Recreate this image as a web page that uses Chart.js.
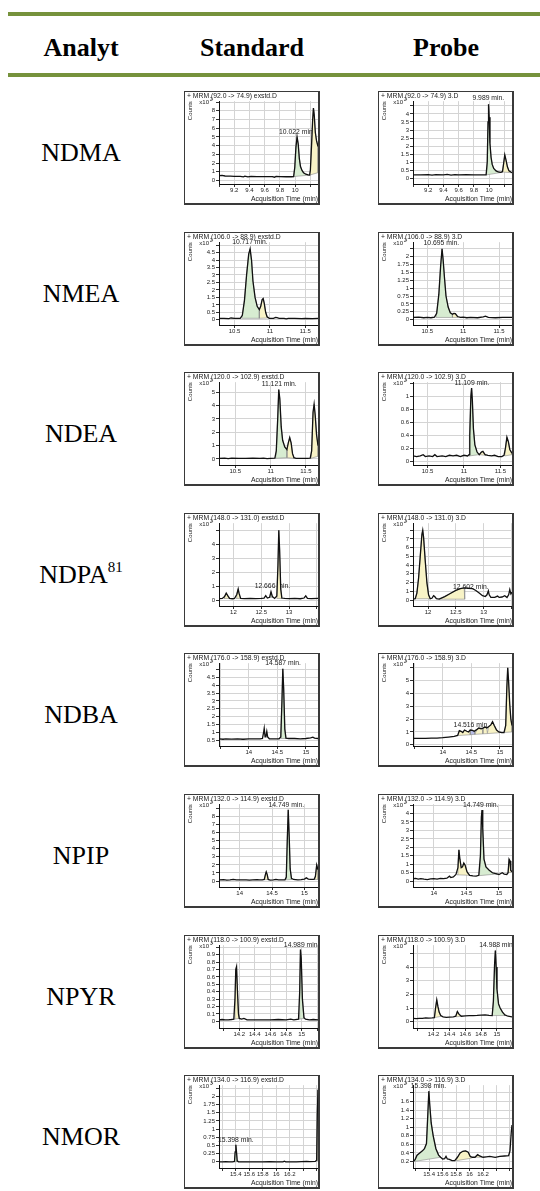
<!DOCTYPE html>
<html>
<head>
<meta charset="utf-8">
<script src="https://cdn.jsdelivr.net/npm/chart.js@4.4.1/dist/chart.umd.min.js"></script>
<style>
  html, body { margin:0; padding:0; background:#fff; }
  body { width:540px; height:1191px; position:relative; overflow:hidden; font-family:"Liberation Serif","Times New Roman",serif; }
  .bar { position:absolute; left:8px; width:532px; height:4px; background:#76923c; }
  .head, .name { position:absolute; width:170px; text-align:center; font-size:26px; line-height:30px; color:#000; white-space:nowrap; }
  .head { font-weight:bold; top:33px; }
  .name sup { font-size:15px; vertical-align:11px; line-height:0; }
  .box { position:absolute; width:133px; height:111px; border:1px solid #3a3a3a; border-right-width:2px; border-bottom-width:2px; background:#fff; }
  .box canvas { display:block; }
</style>
</head>
<body>
<div class="bar" style="top:12px"></div>
<div class="bar" style="top:73px"></div>
<div class="head" style="left:-4px">Analyt</div>
<div class="head" style="left:167px">Standard</div>
<div class="head" style="left:361px">Probe</div>

<script>
// rows of the table
const analytes = ['NDMA', 'NMEA', 'NDEA', 'NDPA<sup>81</sup>', 'NDBA', 'NPIP', 'NPYR', 'NMOR'];
const transitions = ['(92.0 -> 74.9)', '(106.0 -> 88.9)', '(120.0 -> 102.9)', '(148.0 -> 131.0)',
                     '(176.0 -> 158.9)', '(132.0 -> 114.9)', '(118.0 -> 100.9)', '(134.0 -> 116.9)'];
const files = ['exstd.D', '3.D'];

// chromatogram traces: [time (min), counts (x10^exp)]
const ndmaStd = [[9.00,0.55],[9.04,0.58],[9.08,0.52],[9.15,0.5],[9.2,0.48],[9.28,0.47],[9.32,0.42],[9.34,0.5],[9.38,0.42],[9.42,0.48],[9.5,0.45],[9.6,0.44],[9.7,0.45],[9.73,0.38],[9.75,0.46],[9.8,0.44],[9.88,0.43],[9.95,0.43],[9.98,0.45],[9.995,1.5],[10.01,3.8],[10.025,5.0],[10.04,4.2],[10.055,2.5],[10.07,1.6],[10.09,1.15],[10.11,0.9],[10.14,0.72],[10.17,0.65],[10.19,0.62],[10.2,1.2],[10.215,4.0],[10.23,7.0],[10.24,8.3],[10.25,7.6],[10.265,5.5],[10.28,4.6],[10.3,3.9]];
const ndmaProbe = [[9.0,0.2],[9.1,0.2],[9.2,0.22],[9.25,0.18],[9.3,0.22],[9.4,0.2],[9.45,0.23],[9.5,0.19],[9.55,0.22],[9.6,0.2],[9.7,0.21],[9.8,0.2],[9.9,0.2],[9.96,0.2],[9.975,1.0],[9.985,3.5],[9.992,4.6],[10.0,3.8],[10.01,2.2],[10.025,1.3],[10.04,0.85],[10.06,0.6],[10.09,0.45],[10.12,0.38],[10.15,0.36],[10.175,0.4],[10.19,0.9],[10.205,1.45],[10.22,1.15],[10.24,0.7],[10.26,0.45],[10.3,0.33]];
const nmeaStd = [[10.28,0.1],[10.35,0.1],[10.42,0.08],[10.45,0.12],[10.5,0.1],[10.58,0.1],[10.61,0.3],[10.64,1.3],[10.67,3.0],[10.7,4.4],[10.72,4.75],[10.74,4.0],[10.76,2.6],[10.79,1.5],[10.82,0.9],[10.85,0.68],[10.87,0.9],[10.89,1.35],[10.905,1.42],[10.92,1.1],[10.94,0.5],[10.96,0.2],[10.99,0.1],[11.05,0.1],[11.08,0.16],[11.1,0.14],[11.13,0.09],[11.2,0.1],[11.23,0.06],[11.26,0.1],[11.35,0.09],[11.45,0.08],[11.5,0.1],[11.6,0.08],[11.68,0.09]];
const nmeaProbe = [[10.3,0.07],[10.38,0.08],[10.45,0.06],[10.5,0.07],[10.55,0.06],[10.6,0.08],[10.63,0.2],[10.66,0.8],[10.685,1.7],[10.705,2.25],[10.72,1.9],[10.74,1.3],[10.76,0.75],[10.79,0.4],[10.82,0.22],[10.85,0.17],[10.87,0.2],[10.89,0.19],[10.92,0.1],[10.96,0.07],[11.0,0.08],[11.05,0.06],[11.1,0.07],[11.2,0.06],[11.28,0.09],[11.31,0.11],[11.35,0.07],[11.45,0.06],[11.55,0.07],[11.68,0.07]];
const ndeaStd = [[10.27,0.05],[10.35,0.06],[10.4,0.03],[10.45,0.06],[10.55,0.05],[10.65,0.04],[10.75,0.06],[10.85,0.04],[10.9,0.07],[10.95,0.03],[11.0,0.05],[11.06,0.06],[11.08,0.6],[11.1,3.0],[11.115,5.2],[11.13,4.5],[11.15,2.4],[11.17,1.4],[11.2,0.9],[11.23,0.7],[11.25,1.2],[11.27,1.6],[11.29,1.2],[11.31,0.4],[11.33,0.1],[11.36,0.05],[11.45,0.04],[11.52,0.05],[11.56,0.06],[11.58,0.6],[11.6,3.5],[11.615,4.1],[11.63,3.3],[11.65,1.8],[11.67,1.0]];
const ndeaProbe = [[10.3,0.08],[10.35,0.07],[10.4,0.08],[10.44,0.1],[10.47,0.07],[10.52,0.08],[10.57,0.07],[10.6,0.1],[10.63,0.07],[10.7,0.08],[10.75,0.07],[10.8,0.09],[10.85,0.08],[10.9,0.09],[10.95,0.07],[11.0,0.09],[11.05,0.08],[11.07,0.1],[11.08,0.4],[11.095,1.0],[11.105,1.13],[11.115,0.95],[11.13,0.5],[11.15,0.25],[11.18,0.14],[11.21,0.1],[11.24,0.14],[11.26,0.15],[11.29,0.1],[11.33,0.09],[11.38,0.08],[11.42,0.09],[11.47,0.07],[11.52,0.07],[11.55,0.09],[11.57,0.2],[11.59,0.37],[11.61,0.3],[11.63,0.18],[11.66,0.12]];
const ndpaStd = [[11.74,0.1],[11.8,0.12],[11.84,0.25],[11.87,0.5],[11.9,0.3],[11.93,0.12],[11.98,0.1],[12.02,0.12],[12.06,0.4],[12.085,0.8],[12.1,0.5],[12.13,0.12],[12.2,0.1],[12.3,0.12],[12.4,0.1],[12.5,0.12],[12.55,0.15],[12.58,0.32],[12.61,0.15],[12.65,0.2],[12.675,0.6],[12.7,0.25],[12.74,0.12],[12.78,0.3],[12.8,2.5],[12.815,5.0],[12.83,3.6],[12.85,0.8],[12.87,0.15],[12.92,0.12],[13.0,0.1],[13.1,0.12],[13.2,0.1],[13.27,0.15],[13.3,0.3],[13.33,0.12],[13.4,0.1],[13.52,0.12]];
const ndpaProbe = [[11.73,0.1],[11.77,0.15],[11.8,0.8],[11.83,2.5],[11.86,5.0],[11.89,7.5],[11.905,8.0],[11.92,7.2],[11.95,4.5],[11.98,2.0],[12.01,0.6],[12.04,0.15],[12.07,0.2],[12.1,0.5],[12.12,0.4],[12.15,0.15],[12.2,0.1],[12.3,0.4],[12.4,0.75],[12.5,1.1],[12.58,1.3],[12.65,1.4],[12.72,1.35],[12.8,1.3],[12.86,1.1],[12.92,0.8],[12.98,0.5],[13.03,0.4],[13.06,0.6],[13.085,1.05],[13.1,0.6],[13.13,0.3],[13.2,0.3],[13.25,0.45],[13.28,0.3],[13.33,0.35],[13.38,0.5],[13.42,0.3],[13.45,0.6],[13.47,1.2],[13.49,0.7],[13.51,0.9]];
const ndbaStd = [[13.48,0.58],[13.55,0.55],[13.6,0.58],[13.7,0.56],[13.8,0.57],[13.9,0.55],[14.0,0.57],[14.1,0.58],[14.2,0.57],[14.24,0.6],[14.26,1.0],[14.27,1.25],[14.285,0.7],[14.3,0.75],[14.315,1.05],[14.33,0.7],[14.36,0.58],[14.45,0.57],[14.53,0.58],[14.56,0.7],[14.58,3.0],[14.595,5.05],[14.61,3.8],[14.63,1.2],[14.65,0.62],[14.7,0.6],[14.8,0.6],[14.9,0.58],[15.0,0.6],[15.08,0.64],[15.12,0.68],[15.15,0.62],[15.21,0.6]];
const ndbaProbe = [[13.48,0.5],[13.6,0.5],[13.7,0.5],[13.8,0.52],[13.9,0.52],[14.0,0.55],[14.1,0.6],[14.2,0.65],[14.26,0.72],[14.29,1.1],[14.32,1.05],[14.35,0.95],[14.38,1.15],[14.42,1.05],[14.45,1.0],[14.48,1.15],[14.52,1.12],[14.55,1.05],[14.6,1.2],[14.63,1.3],[14.67,1.25],[14.7,1.3],[14.74,1.38],[14.77,1.3],[14.8,1.4],[14.84,1.55],[14.87,1.8],[14.9,1.5],[14.94,1.15],[14.98,1.0],[15.03,0.95],[15.07,0.95],[15.1,1.5],[15.12,4.5],[15.135,6.0],[15.15,5.0],[15.17,3.2],[15.19,2.0],[15.21,1.5]];
const npipStd = [[13.68,0.15],[13.75,0.18],[13.8,0.12],[13.85,0.15],[13.9,0.2],[13.95,0.14],[14.0,0.15],[14.1,0.16],[14.15,0.12],[14.2,0.15],[14.27,0.18],[14.3,0.14],[14.35,0.15],[14.38,0.2],[14.4,0.9],[14.41,1.15],[14.425,0.8],[14.44,0.2],[14.47,0.12],[14.52,0.15],[14.56,0.22],[14.6,0.15],[14.65,0.14],[14.7,0.15],[14.72,0.5],[14.735,5.0],[14.75,8.8],[14.765,5.5],[14.78,1.5],[14.8,0.35],[14.83,0.2],[14.9,0.15],[14.95,0.18],[15.0,0.25],[15.03,0.4],[15.06,0.25],[15.1,0.2],[15.15,0.2],[15.17,0.6],[15.19,2.0],[15.21,1.4]];
const npipProbe = [[13.68,0.15],[13.72,0.17],[13.76,0.13],[13.8,0.15],[13.85,0.12],[13.9,0.1],[13.95,0.14],[14.0,0.15],[14.05,0.13],[14.1,0.17],[14.15,0.15],[14.2,0.18],[14.24,0.3],[14.26,0.22],[14.3,0.25],[14.34,0.4],[14.37,0.8],[14.385,1.85],[14.4,1.3],[14.42,0.8],[14.44,0.85],[14.46,1.08],[14.48,0.95],[14.51,0.55],[14.55,0.35],[14.6,0.32],[14.65,0.3],[14.69,0.35],[14.715,1.5],[14.73,3.8],[14.74,4.2],[14.75,3.2],[14.77,1.3],[14.8,0.85],[14.85,0.65],[14.9,0.5],[14.95,0.45],[15.0,0.4],[15.05,0.5],[15.08,0.42],[15.12,0.4],[15.14,0.5],[15.155,1.3],[15.17,1.2],[15.18,0.65],[15.2,0.55]];
const npyrStd = [[13.94,0.02],[13.98,0.025],[14.02,0.02],[14.06,0.02],[14.1,0.025],[14.13,0.03],[14.145,0.3],[14.155,0.7],[14.165,0.74],[14.175,0.45],[14.19,0.1],[14.2,0.04],[14.23,0.03],[14.26,0.04],[14.3,0.02],[14.4,0.02],[14.5,0.02],[14.6,0.02],[14.7,0.025],[14.8,0.02],[14.86,0.03],[14.9,0.02],[14.96,0.03],[14.975,0.4],[14.985,0.97],[14.995,0.85],[15.01,0.3],[15.03,0.05],[15.05,0.03],[15.1,0.02],[15.15,0.025],[15.21,0.02]];
const npyrProbe = [[13.94,0.25],[13.98,0.22],[14.02,0.25],[14.06,0.24],[14.1,0.28],[14.14,0.26],[14.18,0.28],[14.21,0.3],[14.225,1.0],[14.24,1.6],[14.255,1.1],[14.27,0.7],[14.29,0.45],[14.32,0.35],[14.36,0.32],[14.4,0.34],[14.45,0.36],[14.48,0.4],[14.5,0.75],[14.52,0.55],[14.55,0.4],[14.6,0.42],[14.65,0.44],[14.7,0.45],[14.75,0.46],[14.8,0.48],[14.85,0.5],[14.9,0.46],[14.94,0.45],[14.955,1.5],[14.97,4.2],[14.98,5.2],[14.99,4.0],[15.0,2.4],[15.02,1.3],[15.04,1.0],[15.07,0.7],[15.1,0.5],[15.14,0.4],[15.19,0.35]];
const nmorStd = [[15.15,0.0],[15.2,0.0],[15.25,0.005],[15.3,0.0],[15.35,0.0],[15.38,0.01],[15.39,0.3],[15.4,0.52],[15.41,0.3],[15.42,0.03],[15.44,0.0],[15.5,0.0],[15.6,0.0],[15.7,0.0],[15.8,0.0],[15.9,0.005],[16.0,0.0],[16.1,0.0],[16.12,0.02],[16.14,0.0],[16.3,0.0],[16.45,0.01],[16.5,0.005],[16.58,0.01],[16.6,0.05],[16.61,1.5],[16.62,2.2]];
const nmorProbe = [[15.16,0.2],[15.19,0.24],[15.22,0.35],[15.26,0.4],[15.3,0.45],[15.33,0.5],[15.36,0.62],[15.38,1.3],[15.395,1.84],[15.41,1.5],[15.43,1.1],[15.46,0.8],[15.5,0.5],[15.54,0.35],[15.57,0.3],[15.6,0.26],[15.63,0.27],[15.65,0.32],[15.67,0.26],[15.7,0.25],[15.74,0.22],[15.78,0.22],[15.82,0.3],[15.86,0.4],[15.9,0.44],[15.94,0.45],[15.98,0.42],[16.01,0.32],[16.04,0.3],[16.08,0.3],[16.12,0.36],[16.15,0.33],[16.2,0.3],[16.25,0.31],[16.3,0.32],[16.38,0.3],[16.45,0.32],[16.52,0.33],[16.58,0.34],[16.6,0.45],[16.62,0.9],[16.63,1.05]];

// integrated peaks: [start, end, baseline at start, baseline at end, colour]
const ndmaStdFills = [[9.98,10.19,0.45,0.62,'g'],[10.19,10.3,0.62,0.9,'y']];
const ndmaProbeFills = [[9.965,10.17,0.2,0.36,'g'],[10.175,10.3,0.38,0.33,'y']];
const nmeaStdFills = [[10.6,10.85,0.1,0.1,'g'],[10.85,10.97,0.1,0.12,'y']];
const nmeaProbeFills = [[10.62,10.85,0.07,0.07,'g'],[10.85,10.93,0.07,0.07,'y']];
const ndeaStdFills = [[11.07,11.23,0.05,0.1,'g'],[11.23,11.33,0.1,0.05,'y'],[11.57,11.67,0.05,0.2,'y']];
const ndeaProbeFills = [[11.07,11.21,0.08,0.1,'g'],[11.21,11.3,0.1,0.09,'y'],[11.56,11.66,0.08,0.1,'y']];
const ndpaStdFills = [[11.83,11.92,0.12,0.12,'y'],[12.05,12.12,0.12,0.12,'y'],[12.65,12.7,0.2,0.2,'g'],[12.78,12.87,0.12,0.12,'y']];
const ndpaProbeFills = [[11.77,12.04,0.15,0.15,'y'],[12.2,12.66,0.1,0.1,'y']];
const ndbaStdFills = [[14.56,14.65,0.6,0.6,'g']];
const ndbaProbeFills = [[14.27,14.48,0.72,0.78,'y'],[14.48,14.56,0.78,0.81,'b'],[14.56,14.7,0.81,0.85,'y'],[14.7,14.78,0.85,0.87,'y'],[14.78,15.0,0.87,0.94,'y'],[15.08,15.21,0.96,1.0,'y']];
const npipStdFills = [[14.38,14.44,0.18,0.18,'y'],[14.72,14.8,0.15,0.2,'g'],[15.16,15.21,0.2,0.2,'y']];
const npipProbeFills = [[14.36,14.55,0.38,0.35,'y'],[14.7,14.97,0.33,0.43,'g'],[15.14,15.2,0.5,0.55,'y']];
const npyrStdFills = [[14.14,14.2,0.03,0.04,'y'],[14.97,15.035,0.03,0.04,'g']];
const npyrProbeFills = [[14.21,14.3,0.3,0.4,'y'],[14.48,14.56,0.36,0.4,'y'],[14.94,15.1,0.45,0.45,'g']];
const nmorStdFills = [[15.38,15.42,0.0,0.0,'g'],[16.6,16.62,0.02,0.05,'y']];
const nmorProbeFills = [[15.17,15.57,0.2,0.3,'g'],[15.8,16.03,0.22,0.28,'y'],[16.08,16.18,0.3,0.3,'y']];

// chart order: row by row, standard then probe
const traces = [ndmaStd, ndmaProbe, nmeaStd, nmeaProbe, ndeaStd, ndeaProbe, ndpaStd, ndpaProbe,
                ndbaStd, ndbaProbe, npipStd, npipProbe, npyrStd, npyrProbe, nmorStd, nmorProbe];
const fills = [ndmaStdFills, ndmaProbeFills, nmeaStdFills, nmeaProbeFills, ndeaStdFills, ndeaProbeFills,
               ndpaStdFills, ndpaProbeFills, ndbaStdFills, ndbaProbeFills, npipStdFills, npipProbeFills,
               npyrStdFills, npyrProbeFills, nmorStdFills, nmorProbeFills];

// axes: [min, max, step]
const xRanges = [[9.0,10.3,0.2],[9.0,10.3,0.2],[10.28,11.68,0.5],[10.3,11.68,0.5],[10.27,11.67,0.5],[10.3,11.66,0.5],
                 [11.74,13.52,0.5],[11.73,13.51,0.5],[13.48,15.21,0.5],[13.48,15.21,0.5],[13.68,15.21,0.5],[13.68,15.2,0.5],
                 [13.94,15.21,0.2],[13.94,15.19,0.2],[15.15,16.62,0.2],[15.16,16.63,0.2]];
const yRanges = [[-0.4,9.1,1],[-0.37,4.8,0.5],[-0.35,5.2,0.5],[-0.17,2.46,0.25],[-0.45,5.75,1],[-0.06,1.22,0.2],
                 [-0.42,5.5,1],[-0.68,8.8,1],[0.12,5.41,0.5],[-0.1,6.37,1],[-0.73,9.5,1],[-0.34,4.55,0.5],
                 [-0.09,1.03,0.1],[-0.46,5.6,1],[-0.19,2.34,0.25],[0.05,1.98,0.2]];
const exponents = [2,2,2,2,2,2,2,2,2,2,2,2,3,2,3,2];
const xTickLabels = [[9.2,9.4,9.6,9.8,10],[9.2,9.4,9.6,9.8,10],[10.5,11,11.5],[10.5,11,11.5],[10.5,11,11.5],[10.5,11,11.5],
                     [12,12.5,13],[12,12.5,13],[14,14.5,15],[14,14.5,15],[14,14.5,15],[14,14.5,15],
                     [14.2,14.4,14.6,14.8,15],[14.2,14.4,14.6,14.8,15],[15.4,15.6,15.8,16,16.2],[15.4,15.6,15.8,16,16.2]];
// peak annotations: [time, counts, text]
const peakLabels = [[10.022,5.15,'10.022 min.'],[9.989,4.75,'9.989 min.'],[10.717,4.95,'10.717 min.'],[10.695,2.32,'10.695 min.'],
                    [11.121,5.35,'11.121 min.'],[11.109,1.16,'11.109 min.'],[12.7,0.75,'12.666 min.'],[12.77,1.05,'12.602 min.'],
                    [14.6,5.2,'14.587 min.'],[14.5,1.3,'14.516 min.'],[14.72,9.0,'14.749 min.'],[14.72,4.3,'14.749 min.'],
                    [15.0,0.99,'14.989 min.'],[15.0,5.35,'14.988 min.'],[15.4,0.57,'15.398 min.'],[15.39,1.88,'15.398 min.']];

const fillColors = { g: '#d7ecd1', y: '#f8f3c6', b: '#b8bde7' };
const sans = '"Liberation Sans", Arial, sans-serif';
Chart.defaults.font.family = sans;
Chart.defaults.color = '#222';

const fmt = v => String(Math.round(v * 1000) / 1000);

const mrmPlugin = {
  id: 'mrm',
  beforeDatasetsDraw(chart, args, opts) {
    const { ctx, scales: { x, y } } = chart;
    const [t, c, txt] = opts.label;
    ctx.save();
    ctx.font = '6.8px ' + sans;
    ctx.fillStyle = '#222';
    ctx.textAlign = 'center';
    ctx.textBaseline = 'bottom';
    ctx.fillText(txt, x.getPixelForValue(t), y.getPixelForValue(c));
    ctx.restore();
  },
  afterDraw(chart, args, opts) {
    const { ctx, chartArea } = chart;
    ctx.save();
    ctx.fillStyle = '#222';
    ctx.textBaseline = 'middle';
    ctx.font = '6px ' + sans;
    ctx.textAlign = 'right';
    ctx.fillText('x10', chartArea.left - 10, chartArea.top + 1.5);
    ctx.font = '4.6px ' + sans;
    ctx.textAlign = 'left';
    ctx.fillText(String(opts.exp), chartArea.left - 9, chartArea.top - 1);
    ctx.restore();
  }
};

function buildChart(canvas, i) {
  const row = i >> 1, col = i & 1;
  const trace = traces[i];
  const [x0, x1, xs] = xRanges[i];
  const [y0, y1, ys] = yRanges[i];
  const labels = xTickLabels[i];

  const datasets = [{ data: trace, borderColor: '#111', borderWidth: 1.3, pointRadius: 0, fill: false, order: 0 }];
  fills[i].forEach(([t0, t1, b0, b1, c]) => {
    const pts = [[t0, b0], ...trace.filter(p => p[0] >= t0 && p[0] <= t1), [t1, b1], [t0, b0]];
    datasets.push({ data: pts, borderColor: '#8a8a8a', borderWidth: 0.6, backgroundColor: fillColors[c],
                    fill: 'shape', pointRadius: 0, order: 1 });
  });

  const grid = { color: '#d4d4d4', lineWidth: 1, tickLength: 3, tickColor: '#333' };
  const border = { color: '#111', width: 1 };

  new Chart(canvas, {
    type: 'line',
    data: { datasets },
    options: {
      responsive: false,
      animation: false,
      devicePixelRatio: 1,
      layout: { padding: { left: 2, right: 0, top: 0, bottom: 0 } },
      plugins: {
        legend: { display: false },
        tooltip: { enabled: false },
        title: { display: true, text: '+ MRM ' + transitions[row] + ' ' + files[col], align: 'start',
                 color: '#222', font: { size: 6.8, weight: 'normal' }, padding: { top: 0, bottom: 1 } },
        mrm: { exp: exponents[i], label: peakLabels[i] }
      },
      scales: {
        x: {
          type: 'linear', min: x0, max: x1,
          afterFit: s => { s.height = 19; },
          ticks: { stepSize: xs, includeBounds: false, autoSkip: false, maxRotation: 0, padding: 0,
                   font: { size: 6 }, color: '#222',
                   callback: v => labels.some(l => Math.abs(l - v) < 1e-6) ? fmt(v) : '' },
          grid, border,
          title: { display: true, text: 'Acquisition Time (min)', align: 'end', color: '#222',
                   font: { size: 6.8 }, padding: 0 }
        },
        y: {
          type: 'linear', min: y0, max: y1,
          afterFit: s => { s.width = 32; },
          ticks: { stepSize: ys, includeBounds: false, autoSkip: false, padding: 1,
                   font: { size: 6 }, color: '#222',
                   callback(v) { return v > this.max - 0.1 * (this.max - this.min) ? '' : fmt(v); } },
          grid, border,
          title: { display: true, text: 'Counts', align: 'end', color: '#222', font: { size: 6 }, padding: 0 }
        }
      }
    },
    plugins: [mrmPlugin]
  });
}

const boxLeft = [184, 378];
analytes.forEach((name, r) => {
  const top = 91 + 140.6 * r;
  const lab = document.createElement('div');
  lab.className = 'name';
  lab.style.left = '-4px';
  lab.style.top = (top + 47) + 'px';
  lab.innerHTML = name;
  document.body.appendChild(lab);

  for (let col = 0; col < 2; col++) {
    const box = document.createElement('div');
    box.className = 'box';
    box.style.left = boxLeft[col] + 'px';
    box.style.top = Math.round(top) + 'px';
    const cv = document.createElement('canvas');
    cv.width = 133; cv.height = 111;
    cv.style.width = '133px'; cv.style.height = '111px';
    box.appendChild(cv);
    document.body.appendChild(box);
    buildChart(cv, r * 2 + col);
  }
});
</script>
</body>
</html>
